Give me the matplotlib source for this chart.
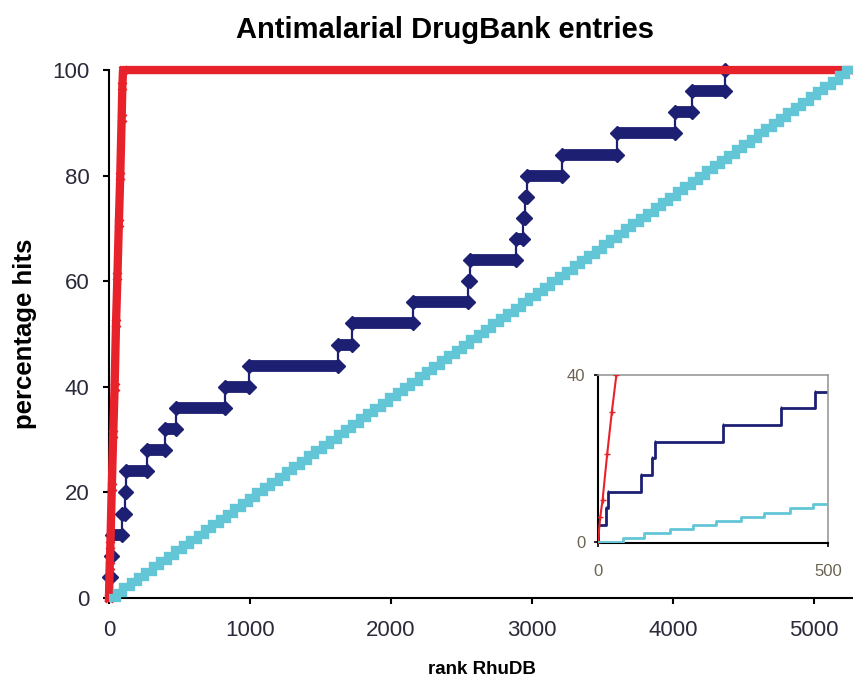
import matplotlib
matplotlib.use('Agg')
import matplotlib.pyplot as plt
import numpy as np

plt.rcParams['font.family'] = ['Liberation Sans', 'DejaVu Sans']

# ranks at which each DrugBank antimalarial is found (blue, 25 hits -> 4 % each)
blue_hit_rank = [1, 17, 22, 93, 117, 124, 272, 399, 472, 823, 990, 1626, 1722,
                 2157, 2546, 2560, 2890, 2935, 2950, 2965, 3210, 3600, 4014,
                 4132, 4369]

# ideal curve (red), points read from the ramp
red_rank = [0, 5, 10, 20, 30, 40, 50, 60, 70, 80, 90, 95, 100, 5300]
red_pct = [0, 6, 10, 21, 31, 40, 52, 61, 71, 80, 91, 97, 100, 100]

# random ranking (cyan), rank of each 1 % step
cyan_hit_rank = [55, 101, 156, 206, 257, 311, 362, 417, 467, 523,
                 575, 628, 680, 732, 785, 837, 889, 941, 994, 1046,
                 1098, 1151, 1203, 1255, 1308, 1360, 1412, 1464, 1517, 1569,
                 1621, 1674, 1726, 1778, 1831, 1883, 1935, 1987, 2040, 2092,
                 2144, 2197, 2249, 2301, 2354, 2406, 2458, 2510, 2563, 2615,
                 2667, 2720, 2772, 2824, 2877, 2929, 2981, 3033, 3086, 3138,
                 3190, 3243, 3295, 3347, 3400, 3452, 3504, 3556, 3609, 3661,
                 3713, 3766, 3818, 3870, 3923, 3975, 4027, 4079, 4132, 4184,
                 4236, 4289, 4341, 4393, 4446, 4498, 4550, 4602, 4655, 4707,
                 4759, 4812, 4864, 4916, 4969, 5021, 5073, 5125, 5178, 5230]

x_end = 5300

navy = '#1c1f72'
red = '#e8222b'
cyan = '#62c6d6'

# cumulative hit percentages
blue_x = np.array([0] + blue_hit_rank + [x_end])
blue_y = np.arange(len(blue_hit_rank) + 1) * 100.0 / len(blue_hit_rank)
blue_y = np.append(blue_y, 100.0)
cyan_x = np.array([0] + cyan_hit_rank + [x_end])
cyan_y = np.arange(len(cyan_hit_rank) + 1) * 100.0 / len(cyan_hit_rank)
cyan_y = np.append(cyan_y, 100.0)

fig = plt.figure(figsize=(8.54, 6.88), dpi=100)
ax = fig.add_axes([0.1276, 0.1308, 0.8724, 0.7674])

# blue: thin step + thick plateaus + diamonds
ax.step(blue_x, blue_y, where='post', color=navy, lw=1.6, zorder=2, clip_on=False)
ax.hlines(blue_y[1:-2], blue_x[1:-2], blue_x[2:-1], color=navy, lw=8.5, zorder=2)
ax.plot(blue_x[1:-1], blue_y[1:-1], 'D', color=navy, ms=7, zorder=2, clip_on=False)
ax.plot(blue_x[2:-1], blue_y[1:-2], 'D', color=navy, ms=7, zorder=2)

ax.plot(red_rank, red_pct, color=red, lw=6, zorder=3, clip_on=False,
        marker='x', ms=6, mew=2)
ax.step(cyan_x, cyan_y, where='post', color=cyan, lw=6, zorder=4, clip_on=False,
        solid_joinstyle='miter', solid_capstyle='butt')

ax.set_xlim(0, 5284)
ax.set_ylim(0, 100)
ax.set_xticks([0, 1000, 2000, 3000, 4000, 5000])
ax.set_yticks([0, 20, 40, 60, 80, 100])
for s in ['top', 'right']:
    ax.spines[s].set_visible(False)
for s in ['left', 'bottom']:
    ax.spines[s].set_linewidth(1.5)
ax.tick_params(axis='x', direction='out', length=4, width=1.5, pad=12,
               labelsize=16, labelcolor='#2a2a3a')
ax.tick_params(axis='y', direction='out', length=4, width=1.5, pad=10,
               labelsize=16, labelcolor='#2a2a3a')
ax.set_xlabel('rank RhuDB', fontsize=13.5, fontweight='bold', labelpad=14)
ax.set_ylabel('percentage hits', fontsize=18.5, fontweight='bold', labelpad=11)
fig.text(0.521, 0.956, 'Antimalarial DrugBank entries', ha='center', va='center',
         fontsize=21, fontweight='bold')

# inset: first 500 ranks
ax2 = fig.add_axes([0.7002, 0.2108, 0.2693, 0.2442])
ax2.step(blue_x, blue_y, where='post', color=navy, lw=2, marker='|', ms=3,
         zorder=2)
ax2.plot(red_rank, red_pct, color=red, lw=1.5, marker='+', ms=4, zorder=3)
ax2.step(cyan_x, cyan_y, where='post', color=cyan, lw=2, zorder=3)
ax2.set_xlim(0, 500)
ax2.set_ylim(-0.3, 40)
ax2.set_xticks([0, 500])
ax2.set_yticks([0, 40])
for s in ['top', 'right']:
    ax2.spines[s].set_color('#999999')
    ax2.spines[s].set_linewidth(1.2)
for s in ['left', 'bottom']:
    ax2.spines[s].set_linewidth(1.5)
ax2.tick_params(axis='x', direction='out', length=3, width=1.2, pad=12,
                labelsize=12, labelcolor='#6b6450')
ax2.tick_params(axis='y', direction='out', length=3, width=1.2, pad=6,
                labelsize=12, labelcolor='#6b6450')

fig.savefig('out.png', dpi=100)
